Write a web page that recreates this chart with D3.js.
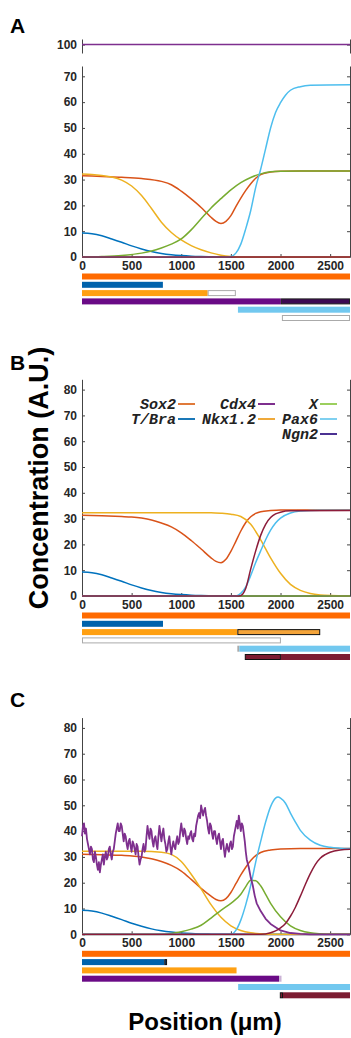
<!DOCTYPE html>
<html>
<head>
<meta charset="utf-8">
<script src="https://cdn.jsdelivr.net/npm/d3@7"></script>
<style>
  body { margin: 0; background: #fff; }
  svg { display: block; font-family: "Liberation Sans", Arial, sans-serif; }
</style>
</head>
<body>
<div id="chart"></div>
<script>
// ---- data (position in um, concentration in A.U.) ----
var xTicks = [0, 500, 1000, 1500, 2000, 2500];
var yTicksA = [0, 10, 20, 30, 40, 50, 60, 70];
var yTicksBC = [0, 10, 20, 30, 40, 50, 60, 70, 80];
var yTicksTop = [100];

var tbra = [[0,9.3],[100,9],[200,8.2],[300,7],[400,5.7],[500,4.3],[600,3.1],[700,2.1],[800,1.4],[900,0.9],[1000,0.55],[1100,0.3],[1200,0.15],[1300,0.05],[1400,0],[2700,0]];

// panel A
var cdx4A = [[0,100],[2700,100]];
var sox2A = [[0,31.5],[200,31.2],[400,30.9],[600,30.4],[800,29.3],[900,28],[1000,25.5],[1100,22.5],[1200,19.2],[1250,17.3],[1300,15.4],[1350,13.8],[1400,13],[1450,13.8],[1500,16],[1550,19.5],[1600,22.8],[1650,25.8],[1700,28.4],[1750,30.5],[1800,31.9],[1900,32.9],[2000,33.2],[2200,33.3],[2700,33.3]];
var nkxA = [[0,32.2],[100,32],[200,31.6],[300,31],[400,29.8],[500,27.5],[600,23.8],[700,18.8],[800,13.5],[900,9.5],[1000,6.6],[1100,4.4],[1200,2.8],[1300,1.6],[1400,0.7],[1500,0.2],[1600,0],[2700,0]];
var xA = [[0,0],[200,0.2],[400,0.6],[600,1.5],[700,2.3],[800,3.5],[900,5],[1000,7],[1100,10.5],[1200,14.8],[1300,19],[1400,22.6],[1500,26],[1600,28.8],[1700,30.8],[1800,32.2],[1900,33],[2000,33.2],[2200,33.3],[2700,33.3]];
var pax6A = [[0,0],[1450,0],[1500,0.2],[1550,1.5],[1600,5],[1650,11],[1700,18],[1750,27],[1800,34],[1850,42],[1900,50],[1950,56],[2000,59.8],[2050,62.7],[2100,64.6],[2200,66],[2300,66.5],[2700,66.7]];
var ngn2A = [[0,0],[2700,0]];

// panel B
var sox2B = [[0,31.3],[200,31.1],[400,30.8],[500,30.6],[600,30.2],[700,29.5],[800,28.3],[900,26.8],[1000,24.5],[1100,21.5],[1200,18.2],[1300,14.8],[1350,13.4],[1400,12.9],[1450,14.2],[1500,17.3],[1550,21.2],[1600,25.2],[1650,28.5],[1700,30.7],[1750,32],[1800,32.7],[1900,33.1],[2000,33.3],[2700,33.3]];
var nkxB = [[0,32.3],[1300,32.3],[1400,32.1],[1500,31.7],[1600,30.8],[1700,27.8],[1800,21.8],[1900,14.8],[2000,8.8],[2100,4.5],[2200,2.2],[2300,1],[2400,0.4],[2500,0.15],[2700,0]];
var cdx4B = [[0,0],[2700,0]];
var xB = [[0,0],[2700,0]];
var pax6B = [[0,0],[1550,0],[1600,1],[1650,3.5],[1700,8],[1750,13],[1800,17.5],[1850,21.8],[1900,25.5],[1950,28.3],[2000,30.2],[2100,32.2],[2200,32.9],[2400,33.2],[2700,33.2]];
var ngn2B = [[0,0],[1580,0],[1620,0.8],[1650,3],[1700,10.5],[1750,17.5],[1800,23.5],[1850,27.8],[1900,30.4],[1950,31.8],[2000,32.5],[2100,33],[2700,33.1]];

// panel C
var sox2C = [[0,31],[200,30.8],[400,30.6],[600,30],[700,29.3],[800,28.2],[900,26.7],[1000,24.5],[1100,21.3],[1200,17.8],[1300,14.8],[1350,13.5],[1400,13],[1450,13.8],[1500,16.2],[1550,19.6],[1600,23],[1650,26],[1700,28.6],[1750,30.5],[1800,31.7],[1900,32.7],[2000,33.1],[2200,33.3],[2700,33.3]];
var nkxC = [[0,32.2],[600,32.2],[800,31.8],[900,31],[1000,28.2],[1100,23.3],[1200,17.6],[1300,11.5],[1400,6.6],[1500,3.3],[1600,1.5],[1700,0.6],[1800,0.2],[1900,0],[2700,0]];
var xC = [[0,0],[800,0],[900,0.3],[1000,1],[1100,2],[1200,3.5],[1300,6.3],[1400,9.3],[1500,12],[1600,15.5],[1650,18.5],[1700,21],[1750,20.8],[1800,18.8],[1850,15.5],[1900,12],[2000,6.8],[2100,3.3],[2200,1.5],[2300,0.6],[2400,0.2],[2500,0],[2700,0]];
var pax6C = [[0,0],[1500,0],[1550,1.5],[1600,5.5],[1650,11.5],[1700,19],[1750,28],[1800,36],[1850,43.5],[1900,49.5],[1950,52.8],[1975,53.2],[2000,52.8],[2050,50.8],[2100,47],[2150,43.5],[2200,40.3],[2300,36.5],[2400,34.5],[2500,33.7],[2600,33.4],[2700,33.3]];
var ngn2C = [[0,0],[1800,0],[1900,0.6],[1950,1.3],[2000,2.5],[2050,4.2],[2100,7],[2150,10.5],[2200,14.8],[2250,19.3],[2300,23.5],[2350,27],[2400,29.5],[2450,30.9],[2500,31.8],[2600,32.7],[2700,33]];
var cdx4C = [[0,38],[10,42],[20,43],[30,39],[40,41],[50,37],[60,35],[70,33],[80,31],[90,34],[100,33],[110,29],[120,28],[130,32],[140,30],[150,27],[160,25],[170,28],[180,24],[190,27],[200,29],[210,31],[220,27],[230,30],[240,32],[250,29],[260,30],[270,33],[280,34],[290,31],[300,29],[310,32],[320,33],[330,36],[340,39],[350,41],[360,43],[370,40],[380,40],[390,43],[400,42],[410,39],[420,36],[430,39],[440,38],[450,35],[460,33],[470,36],[480,37],[490,34],[500,32],[510,36],[520,35],[530,33],[540,31],[550,35],[560,34],[570,30],[580,27],[590,29],[600,30],[610,33],[620,35],[630,32],[640,33],[650,38],[660,42],[670,39],[680,37],[690,41],[700,40],[710,36],[720,34],[730,37],[740,38],[750,35],[760,33],[770,38],[780,42],[790,39],[800,36],[810,39],[820,41],[830,37],[840,35],[850,32],[860,33],[870,36],[880,38],[890,34],[900,31],[910,34],[920,36],[930,34],[940,33],[950,36],[960,38],[970,35],[980,36],[990,40],[1000,43],[1010,40],[1020,38],[1030,41],[1040,40],[1050,37],[1060,35],[1070,38],[1080,37],[1090,39],[1100,40],[1110,37],[1120,36],[1130,39],[1140,38],[1150,42],[1160,44],[1170,46],[1180,47],[1190,45],[1200,50],[1210,48],[1220,46],[1230,48],[1240,49],[1250,46],[1260,44],[1270,41],[1280,39],[1290,43],[1300,42],[1310,39],[1320,37],[1330,40],[1340,40],[1350,37],[1360,35],[1370,38],[1380,39],[1390,36],[1400,33],[1410,36],[1420,37],[1430,33],[1440,30],[1450,33],[1460,35],[1470,33],[1480,32],[1490,35],[1500,36],[1510,33],[1520,34],[1530,38],[1540,40],[1550,42],[1560,44],[1570,41],[1580,46],[1590,43],[1600,40],[1610,43],[1620,42],[1630,39],[1640,36],[1650,32],[1660,29],[1680,26],[1700,22],[1720,19],[1740,15],[1760,12],[1800,9],[1850,6],[1900,4],[2000,1.5],[2100,0.5],[2200,0.2],[2300,0],[2700,0]];

// expression domains under each plot: [row, from, to, kind]
var barsA = [[0,0,2700,'sox2'],[1,0,815,'tbra'],[2,0,1266,'nkx'],[2,1266,1550,'empty'],[3,0,2004,'cdx4'],[3,2004,2700,'cdx4dark'],[4,1571,2700,'pax6'],[5,2014,2700,'empty']];
var barsB = [[0,0,2700,'sox2'],[1,0,816,'tbra'],[2,0,1565,'nkx'],[2,1565,2400,'nkxbox'],[3,0,2004,'empty'],[4,1565,1585,'empty'],[4,1585,2700,'pax6'],[5,1640,2004,'ngn2box'],[5,2004,2700,'ngn2']];
var barsC = [[0,0,2700,'sox2'],[1,0,829,'tbra'],[1,829,857,'tbrabox'],[2,0,1557,'nkx'],[3,0,1985,'cdx4'],[3,1985,2010,'cdx4light'],[4,1573,2700,'pax6'],[5,1993,2025,'ngn2box'],[5,2025,2700,'ngn2']];

var legendCols = [['Sox2', 'T/Bra'], ['Cdx4', 'Nkx1.2'], ['X', 'Pax6', 'Ngn2']];

// ---- styles ----
var colors = {
  sox2: '#d95319', tbra: '#0072bd', nkx: '#edb120', cdx4: '#7e2f8e',
  x: '#77ac30', pax6: '#4dbeee', ngn2: '#8c1c3a'
};
var legendColors = {
  'Sox2': '#e07a3a', 'T/Bra': '#1a78b8', 'Cdx4': '#7e2f8e', 'Nkx1.2': '#efa93a',
  'X': '#9ccf5e', 'Pax6': '#7fd0f0', 'Ngn2': '#4b3192'
};
var barStyle = {
  sox2: {fill: '#ff6a00'}, tbra: {fill: '#0062ac'}, nkx: {fill: '#ffa012'},
  cdx4: {fill: '#6a0a86'}, cdx4dark: {fill: '#3c0852', stroke: '#222'},
  cdx4light: {fill: '#cbb3d6'}, pax6: {fill: '#72c8ef'}, ngn2: {fill: '#7c1c32'},
  empty: {fill: '#fff', stroke: '#aaa'}, nkxbox: {fill: '#f4a43a', stroke: '#111'},
  ngn2box: {fill: '#7c1c32', stroke: '#111'}, tbrabox: {fill: '#0b3a72', stroke: '#111'}
};

var width = 351, height = 1038;
var svg = d3.select('#chart').append('svg')
    .attr('width', width)
    .attr('height', height);

var x = d3.scaleLinear().domain([0, 2700]).range([82, 350]);
var fmt = d3.format('d');
var line = d3.line()
    .x(function(d) { return x(d[0]); })
    .curve(d3.curveMonotoneX);
var noisyLine = d3.line()
    .x(function(d) { return x(d[0]); });

function styleAxis(g) {
  g.selectAll('path, line').attr('stroke', '#444').attr('stroke-width', 1);
  g.selectAll('text')
      .attr('fill', '#262626')
      .style('font-size', '12px')
      .style('font-weight', 'bold')
      .style('font-family', '"Liberation Sans", Arial, sans-serif');
}

function yAxes(y, ticks) {
  svg.append('g').attr('transform', 'translate(82,0)')
      .call(d3.axisLeft(y).tickValues(ticks).tickFormat(fmt).tickSize(-3).tickSizeOuter(0).tickPadding(5))
      .call(styleAxis);
  svg.append('g').attr('transform', 'translate(350,0)')
      .call(d3.axisRight(y).tickValues(ticks).tickSize(-3).tickSizeOuter(0).tickFormat(''))
      .call(styleAxis);
}

function drawPanel(p) {
  var y = d3.scaleLinear().domain(p.yDomain).range([p.y0, p.yTop]);
  yAxes(y, p.yTicks);
  svg.append('g').attr('transform', 'translate(0,' + p.y0 + ')')
      .call(d3.axisBottom(x).tickValues(xTicks).tickFormat(fmt).tickSize(-3).tickSizeOuter(0).tickPadding(4))
      .call(styleAxis);

  p.series.forEach(function(s) {
    var gen = s.noisy ? noisyLine : line;
    gen.y(function(d) { return y(d[1]); });
    svg.append('path')
        .datum(s.data)
        .attr('d', gen)
        .attr('fill', 'none')
        .attr('stroke', colors[s.key])
        .attr('stroke-width', s.noisy ? 1.8 : 1.5)
        .attr('stroke-linejoin', 'round');
  });

  // domain bars
  p.bars.forEach(function(b) {
    var st = barStyle[b[3]];
    var top = p.y0 + 16.5 + b[0] * 8.3;
    var x0 = x(b[1]), x1 = x(b[2]);
    var inset = st.stroke ? 0.5 : 0;
    svg.append('rect')
        .attr('x', x0 + inset)
        .attr('y', top + inset)
        .attr('width', Math.max(0, x1 - x0 - 2 * inset))
        .attr('height', 6 - 2 * inset)
        .attr('fill', st.fill)
        .attr('stroke', st.stroke || 'none')
        .attr('stroke-width', 1);
  });

  svg.append('text')
      .attr('x', 10).attr('y', p.labelY)
      .style('font-size', '21px').style('font-weight', 'bold')
      .text(p.label);
}

// panel A, top strip with Cdx4 at 100
var yTop = d3.scaleLinear().domain([97, 102]).range([53, 39]);
yAxes(yTop, yTicksTop);
svg.append('path')
    .datum(cdx4A)
    .attr('d', line.y(function(d) { return yTop(d[1]); }))
    .attr('fill', 'none')
    .attr('stroke', colors.cdx4)
    .attr('stroke-width', 1.5);

drawPanel({
  label: 'A', labelY: 33, y0: 257, yTop: 66, yDomain: [0, 74], yTicks: yTicksA,
  series: [
    {key: 'sox2', data: sox2A}, {key: 'tbra', data: tbra}, {key: 'nkx', data: nkxA},
    {key: 'x', data: xA}, {key: 'pax6', data: pax6A}, {key: 'ngn2', data: ngn2A}
  ],
  bars: barsA
});

drawPanel({
  label: 'B', labelY: 370, y0: 596, yTop: 379.3, yDomain: [0, 84], yTicks: yTicksBC,
  series: [
    {key: 'sox2', data: sox2B}, {key: 'tbra', data: tbra}, {key: 'nkx', data: nkxB},
    {key: 'cdx4', data: cdx4B}, {key: 'x', data: xB}, {key: 'pax6', data: pax6B},
    {key: 'ngn2', data: ngn2B}
  ],
  bars: barsB
});

drawPanel({
  label: 'C', labelY: 707, y0: 934.3, yTop: 717.6, yDomain: [0, 84], yTicks: yTicksBC,
  series: [
    {key: 'sox2', data: sox2C}, {key: 'tbra', data: tbra}, {key: 'nkx', data: nkxC},
    {key: 'x', data: xC}, {key: 'pax6', data: pax6C},
    {key: 'cdx4', data: cdx4C, noisy: true}, {key: 'ngn2', data: ngn2C}
  ],
  bars: barsC
});

// legend in panel B
var legendRight = [176, 256, 318];
legendCols.forEach(function(col, ci) {
  col.forEach(function(name, ri) {
    var cy = 404 + ri * 15;
    svg.append('text')
        .attr('x', legendRight[ci]).attr('y', cy)
        .attr('dy', '0.35em')
        .attr('text-anchor', 'end')
        .style('font-family', '"Liberation Mono", "Courier New", monospace')
        .style('font-style', 'italic').style('font-weight', 'bold')
        .style('font-size', '15px')
        .attr('fill', '#222')
        .text(name);
    svg.append('line')
        .attr('x1', legendRight[ci] + 2).attr('x2', legendRight[ci] + 19)
        .attr('y1', cy).attr('y2', cy)
        .attr('stroke', legendColors[name]).attr('stroke-width', 2);
  });
});

// axis titles
svg.append('text')
    .attr('transform', 'translate(48,478) rotate(-90)')
    .attr('text-anchor', 'middle')
    .style('font-size', '27px').style('font-weight', 'bold')
    .text('Concentration (A.U.)');
svg.append('text')
    .attr('x', 205).attr('y', 1030)
    .attr('text-anchor', 'middle')
    .style('font-size', '24px').style('font-weight', 'bold')
    .text('Position (\u03bcm)');
</script>
</body>
</html>
